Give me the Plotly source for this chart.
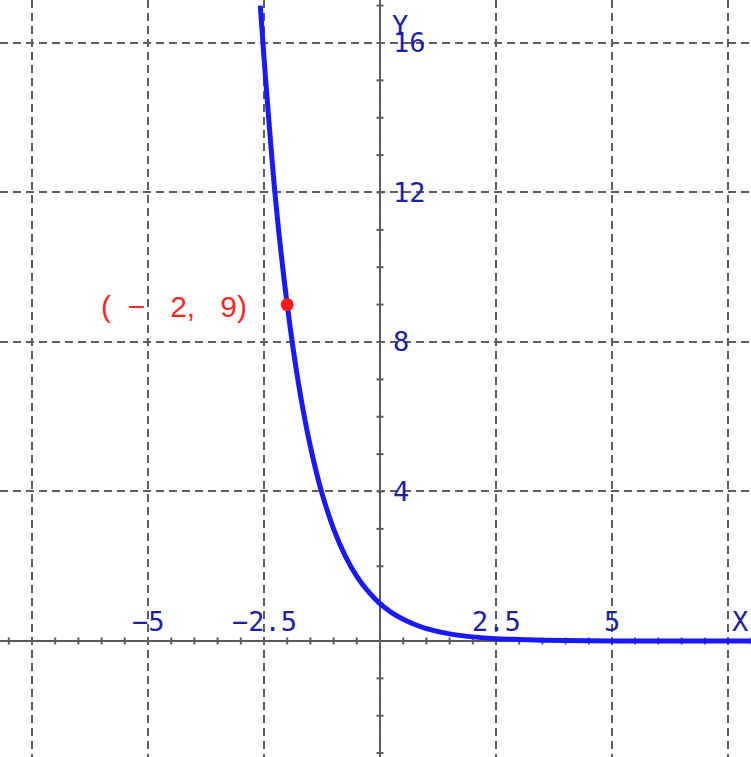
import plotly.graph_objects as go

# curve samples (y = 3^-x)
curve_x = [-2.58, -2.5, -2.25, -2.0, -1.75, -1.5, -1.25, -1.0, -0.75, -0.5, -0.25,
           0.0, 0.25, 0.5, 0.75, 1.0, 1.5, 2.0, 2.5, 3.0, 4.0, 5.0, 6.0, 7.0, 8.0]
curve_y = [17.0, 15.6, 11.8, 9.0, 6.84, 5.2, 3.95, 3.0, 2.28, 1.73, 1.32,
           1.0, 0.76, 0.58, 0.44, 0.33, 0.19, 0.11, 0.06, 0.04, 0.01, 0.0, 0.0, 0.0, 0.0]

point_x = [-2]
point_y = [9]
point_label = "(  −   2,   9)"

x_tick_vals = [-5, -2.5, 2.5, 5]
x_tick_text = ["−5", "−2.5", "2.5", "5"]
y_tick_vals = [4, 8, 12, 16]
y_tick_text = ["4", "8", "12", "16"]
x_grid = [-7.5, -5, -2.5, 0, 2.5, 5, 7.5]
y_grid = [0, 4, 8, 12, 16]
x_minor = [i * 0.5 for i in range(-16, 17)]
y_minor = list(range(-3, 18))

W, H = 751, 757
x_range = [-8.19, 7.996]
y_range = [-3.104, 17.15]
px_x = W / (x_range[1] - x_range[0])
px_y = H / (y_range[1] - y_range[0])

axis_col = "#5a5a5a"
label_col = "#1e1ea0"
label_font = dict(family="DejaVu Sans Mono", size=27, color=label_col)

fig = go.Figure()
fig.add_trace(go.Scatter(x=curve_x, y=curve_y, mode="lines",
                         line=dict(color="rgb(25,25,255)", width=5, shape="spline", smoothing=0.8),
                         hoverinfo="skip", showlegend=False))
fig.add_trace(go.Scatter(x=point_x, y=point_y, mode="markers",
                         marker=dict(color="#ff1a1a", size=13),
                         showlegend=False))

shapes = []
# axes
shapes.append(dict(type="line", xref="paper", yref="y", x0=0, x1=1, y0=0, y1=0,
                   line=dict(color=axis_col, width=2), layer="below"))
shapes.append(dict(type="line", xref="x", yref="y", x0=0, x1=0, y0=y_minor[0], y1=y_minor[-1],
                   line=dict(color=axis_col, width=2), layer="below"))
tx = 3.5 / px_y
for xv in x_minor:
    shapes.append(dict(type="line", xref="x", yref="y", x0=xv, x1=xv, y0=-tx, y1=tx,
                       line=dict(color=axis_col, width=2), layer="below"))
ty = 3.5 / px_x
for yv in y_minor:
    shapes.append(dict(type="line", xref="x", yref="y", x0=-ty, x1=ty, y0=yv, y1=yv,
                       line=dict(color=axis_col, width=2), layer="below"))

annotations = []
for v, t in zip(x_tick_vals, x_tick_text):
    annotations.append(dict(x=v, y=0, text=t, showarrow=False, xanchor="center",
                            yanchor="middle", yshift=19, font=label_font))
annotations.append(dict(x=7.75, y=0, text="X", showarrow=False, xanchor="center",
                        yanchor="middle", yshift=19, font=label_font))
for v, t in zip(y_tick_vals, y_tick_text):
    annotations.append(dict(x=0, y=v, text=t, showarrow=False, xanchor="left",
                            yanchor="middle", xshift=11, font=label_font))
annotations.append(dict(x=0, y=16, text="Y", showarrow=False, xanchor="left",
                        yanchor="middle", xshift=10, yshift=17, font=label_font))
annotations.append(dict(x=point_x[0], y=point_y[0], text=point_label, showarrow=False,
                        xanchor="right", yanchor="middle", xshift=-38, yshift=-2,
                        font=dict(family="Liberation Sans", size=30, color="#ff2626")))

fig.update_layout(
    width=W, height=H, margin=dict(l=0, r=0, t=0, b=0),
    plot_bgcolor="white", paper_bgcolor="white",
    shapes=shapes, annotations=annotations,
    xaxis=dict(range=x_range, tickvals=x_grid, showticklabels=False, zeroline=False,
               showgrid=True, gridcolor="#5e5e5e", gridwidth=2, griddash="8px,5px",
               showline=False, ticks=""),
    yaxis=dict(range=y_range, tickvals=y_grid[1:], showticklabels=False, zeroline=False,
               showgrid=True, gridcolor="#5e5e5e", gridwidth=2, griddash="8px,5px",
               showline=False, ticks=""),
)
fig.write_html("out.html", config={"displayModeBar": False},
               post_script="document.body.style.margin='0';document.body.style.overflow='hidden';")
